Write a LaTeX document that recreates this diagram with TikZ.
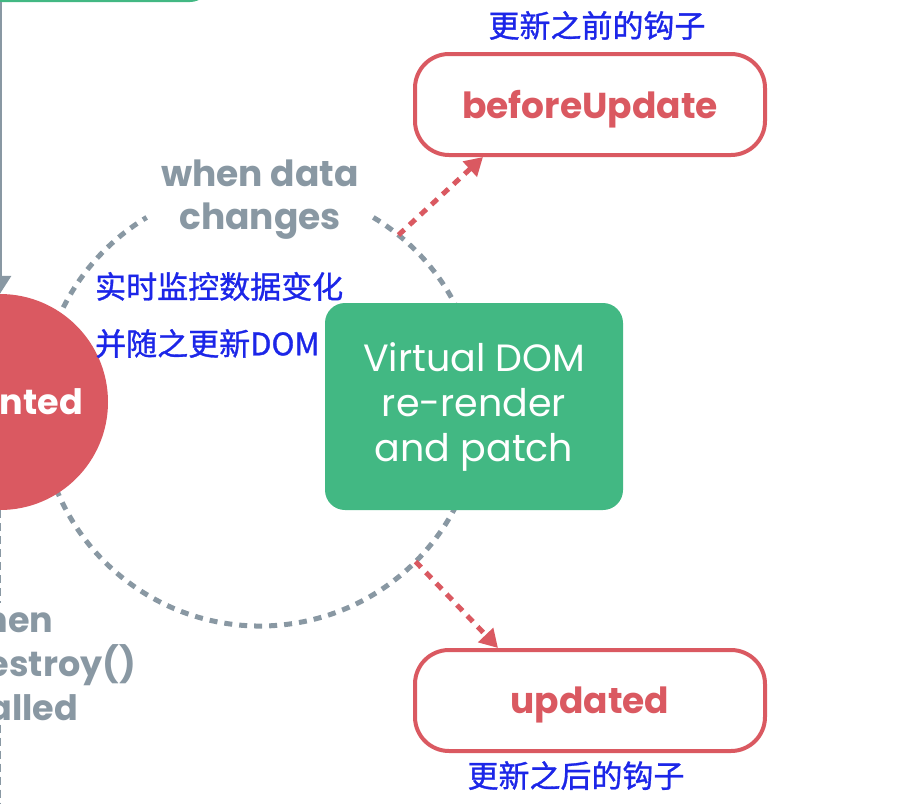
\documentclass[tikz,border=0pt]{standalone}
\usepackage{fontspec}
\setmainfont{Poppins}
\newfontfamily\cjk{Noto Sans CJK SC}[FakeBold=1]
\usepackage{tikz}
\usetikzlibrary{arrows.meta,positioning,calc}
\definecolor{vgreen}{RGB}{66,184,131}
\definecolor{vred}{RGB}{218,89,97}
\definecolor{vgray}{RGB}{137,152,163}
\definecolor{cblue}{RGB}{28,38,232}

\begin{document}
\begin{tikzpicture}[
    x=1pt, y=1pt,
    hook/.style={rectangle, draw=vred, line width=4pt, rounded corners=34pt,
                minimum width=350pt, minimum height=101pt, text=vred,
                font=\fontsize{36}{40}\selectfont\bfseries},
    vbox/.style={rectangle, fill=vgreen, rounded corners=20pt,
                minimum width=298pt, minimum height=207pt, align=center,
                text=white, font=\fontsize{38}{45}\selectfont},
    cnote/.style={font=\cjk\fontsize{31}{57}\selectfont, text=cblue, align=left, inner sep=0pt},
    glab/.style={font=\fontsize{35}{44}\selectfont\bfseries, text=vgray, align=center},
    ring/.style={draw=vgray, line width=5pt, dash pattern=on 8pt off 7pt},
    harr/.style={draw=vred, line width=5pt, dash pattern=on 8pt off 7pt,
                -{Triangle[length=18pt,width=20pt]}},
    flow/.style={draw=vgray, line width=3.5pt, -{Triangle[length=18pt,width=22pt]}},
    gdash/.style={draw=vgray, line width=2pt, dash pattern=on 8pt off 5pt}
]
\useasboundingbox (0,0) rectangle (906,-804);
\clip (0,0) rectangle (906,-804);

% created box and mounted circle (left, cut by the page)
\node[rectangle, fill=vgreen, rounded corners=20pt, minimum width=420pt, minimum height=100pt] (created) at (0,48) {};
\coordinate (cyc) at (260,-406);
\draw[ring] (cyc) ++(59:220) arc[start angle=59, end angle=-239, radius=220];
\node[circle, fill=vred, minimum size=216pt, inner sep=0pt, text=white,
      font=\fontsize{35}{40}\selectfont\bfseries] (mounted) at (0,-402) {mounted};
\draw[flow] (created.south -| mounted.north) -- (mounted.north);

\node[glab] (destroy) at (4,-664) {when\\vm.\$destroy()\\is called};
\coordinate (destroyEnd) at (0,-830);
\draw[gdash] (mounted.south) -- (destroy.north -| mounted.south);
\draw[gdash] (destroy.south -| mounted.south) -- (destroyEnd);

% update cycle
\node[glab, font=\fontsize{36}{43}\selectfont\bfseries] (datachg) at (260,-200) {when data\\changes};
\node[cnote, anchor=west] (watch) at (95,-315) {实时监控数据变化\\并随之更新DOM};
\node[vbox] (vdom) at (474,-406.5) {Virtual DOM\\re-render\\and patch};

% hooks
\node[hook, text depth=-3pt] (bu) at (590,-104.5) {beforeUpdate};
\node[hook, text depth=-3pt] (up) at (590,-700.5) {updated};
\node[cnote, above=12pt of bu, xshift=7pt] (buNote) {更新之前的钩子};
\node[cnote, below=8pt of up, xshift=-14pt] (upNote) {更新之后的钩子};

\path (cyc) ++(51:220) coordinate (c1);
\path (cyc) ++(-45:220) coordinate (c2);
\draw[harr] (c1) -- ([xshift=-107pt]bu.south);
\draw[harr] (c2) -- ([xshift=-92pt]up.north);
\end{tikzpicture}
\end{document}
